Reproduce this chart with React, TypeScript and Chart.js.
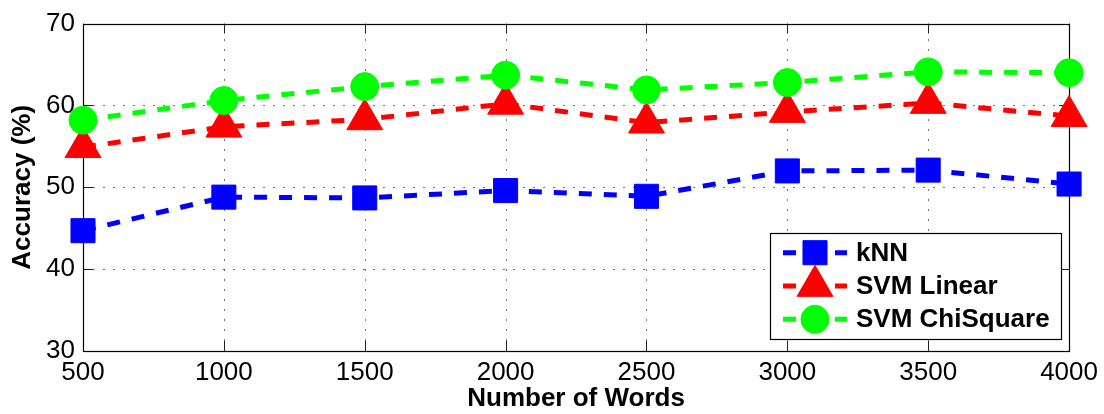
import React, { useEffect, useRef } from 'react';
import { Chart, registerables } from 'chart.js';

Chart.register(...registerables);

const categories = ['500', '1000', '1500', '2000', '2500', '3000', '3500', '4000'];
const knn = [44.7, 48.8, 48.7, 49.6, 48.9, 52.0, 52.1, 50.4];
const svmLinear = [54.9, 57.4, 58.3, 60.2, 57.9, 59.2, 60.3, 58.7];
const svmChiSquare = [58.2, 60.6, 62.3, 63.7, 61.9, 62.8, 64.1, 64.0];
const seriesNames = ['kNN', 'SVM Linear', 'SVM ChiSquare'];
const yMin = 30;
const yMax = 70;
const yStep = 10;
const xTitle = 'Number of Words';
const yTitle = 'Accuracy (%)';

const FONT = "'Liberation Sans', Arial, Helvetica, sans-serif";
const BLUE = '#0000FF';
const RED = '#FF0000';
const GREEN = '#00FF00';
const DASH = [13, 12];

function drawMarker(ctx: CanvasRenderingContext2D, style: string, x: number, y: number, r: number, color: string) {
  ctx.save();
  ctx.fillStyle = color;
  ctx.strokeStyle = color;
  ctx.lineWidth = 1;
  ctx.setLineDash([]);
  ctx.beginPath();
  if (style === 'rect') {
    const s = Math.SQRT1_2 * r;
    ctx.rect(x - s, y - s, 2 * s, 2 * s);
  } else if (style === 'triangle') {
    ctx.moveTo(x, y - r);
    ctx.lineTo(x + 0.866 * r, y + 0.5 * r);
    ctx.lineTo(x - 0.866 * r, y + 0.5 * r);
    ctx.closePath();
  } else {
    ctx.arc(x, y, r, 0, Math.PI * 2);
  }
  ctx.fill();
  ctx.stroke();
  ctx.restore();
}

const framePlugin = {
  id: 'matlabFrame',
  beforeDatasetsDraw(chart: any) {
    const { ctx, chartArea: a, scales } = chart;
    const xs = scales.x;
    const ys = scales.y;
    ctx.save();
    // dotted grid
    ctx.strokeStyle = 'rgba(0,0,0,0.55)';
    ctx.lineWidth = 1;
    ctx.setLineDash([2, 8]);
    xs.ticks.forEach((_t: any, i: number) => {
      const px = Math.round(xs.getPixelForTick(i)) + 0.5;
      ctx.beginPath();
      ctx.moveTo(px, a.bottom);
      ctx.lineTo(px, a.top);
      ctx.stroke();
    });
    ys.ticks.forEach((_t: any, i: number) => {
      const py = Math.round(ys.getPixelForTick(i)) + 0.5;
      ctx.beginPath();
      ctx.moveTo(a.left, py);
      ctx.lineTo(a.right, py);
      ctx.stroke();
    });
    ctx.setLineDash([]);
    // inward ticks on all sides
    ctx.strokeStyle = '#222';
    ctx.lineWidth = 1;
    const tl = 10;
    xs.ticks.forEach((_t: any, i: number) => {
      const px = Math.round(xs.getPixelForTick(i)) + 0.5;
      ctx.beginPath();
      ctx.moveTo(px, a.bottom);
      ctx.lineTo(px, a.bottom - tl);
      ctx.moveTo(px, a.top);
      ctx.lineTo(px, a.top + tl);
      ctx.stroke();
    });
    ys.ticks.forEach((_t: any, i: number) => {
      const py = Math.round(ys.getPixelForTick(i)) + 0.5;
      ctx.beginPath();
      ctx.moveTo(a.left, py);
      ctx.lineTo(a.left + tl, py);
      ctx.moveTo(a.right, py);
      ctx.lineTo(a.right - tl, py);
      ctx.stroke();
    });
    // box
    ctx.strokeStyle = '#000';
    ctx.lineWidth = 1.2;
    ctx.strokeRect(Math.round(a.left) + 0.5, Math.round(a.top) + 0.5, Math.round(a.right - a.left), Math.round(a.bottom - a.top));
    ctx.restore();
  },
  afterDraw(chart: any) {
    const { ctx } = chart;
    const bx = 770, by = 233, bw = 291, bh = 106;
    ctx.save();
    ctx.fillStyle = '#fff';
    ctx.fillRect(bx, by, bw, bh);
    ctx.strokeStyle = '#000';
    ctx.lineWidth = 1.2;
    ctx.strokeRect(bx + 0.5, by + 0.5, bw, bh);
    const rows = [252.7, 286, 319.3];
    chart.data.datasets.forEach((ds: any, i: number) => {
      const yy = rows[i];
      ctx.save();
      ctx.strokeStyle = ds.borderColor;
      ctx.lineWidth = ds.borderWidth;
      ctx.lineCap = 'butt';
      ctx.setLineDash([13, 13]);
      ctx.beginPath();
      ctx.moveTo(783, yy);
      ctx.lineTo(847, yy);
      ctx.stroke();
      ctx.restore();
      drawMarker(ctx, ds.pointStyle, 815, yy, ds.pointRadius, ds.backgroundColor);
      ctx.fillStyle = '#000';
      ctx.font = `bold 26px ${FONT}`;
      ctx.textAlign = 'left';
      ctx.textBaseline = 'middle';
      ctx.fillText(ds.label, 856, yy + 1);
    });
    ctx.restore();
  },
};

export default function App() {
  const ref = useRef<HTMLCanvasElement | null>(null);
  useEffect(() => {
    document.body.style.margin = '0';
    const canvas = ref.current;
    if (!canvas) return;
    const mk = (label: string, data: number[], color: string, style: string, r: number, order: number) => ({
      label,
      data,
      borderColor: color,
      backgroundColor: color,
      borderWidth: 5,
      borderDash: DASH,
      borderCapStyle: 'butt',
      tension: 0,
      fill: false,
      pointStyle: style,
      pointRadius: r,
      pointBackgroundColor: color,
      pointBorderColor: color,
      pointBorderWidth: 1,
      clip: false,
      order,
    });
    const chart = new Chart(canvas, {
      type: 'line',
      data: {
        labels: categories,
        datasets: [
          mk(seriesNames[0], knn, BLUE, 'rect', 17, 3),
          mk(seriesNames[1], svmLinear, RED, 'triangle', 20.7, 2),
          mk(seriesNames[2], svmChiSquare, GREEN, 'circle', 14, 1),
        ] as any,
      },
      options: {
        responsive: false,
        animation: false,
        devicePixelRatio: 1,
        layout: { padding: { left: 0, top: 21, right: 31, bottom: 0 } },
        plugins: { legend: { display: false }, tooltip: { enabled: false }, title: { display: false } },
        scales: {
          x: {
            type: 'category',
            offset: false,
            grid: { display: false, drawTicks: false },
            border: { display: false },
            ticks: {
              color: '#000',
              font: { family: FONT, size: 26 },
              padding: 6,
              maxRotation: 0,
              autoSkip: false,
            },
            title: {
              display: true,
              text: xTitle,
              color: '#000',
              font: { family: FONT, size: 26, weight: 'bold' },
              padding: { top: 0, bottom: 0 },
            },
            afterFit: (s: any) => { s.height = 63; },
          },
          y: {
            min: yMin,
            max: yMax,
            grid: { display: false, drawTicks: false },
            border: { display: false },
            ticks: {
              stepSize: yStep,
              color: '#000',
              font: { family: FONT, size: 26 },
              padding: 8,
            },
            title: {
              display: true,
              text: yTitle,
              color: '#000',
              font: { family: FONT, size: 26, weight: 'bold' },
              padding: { top: 7.5, bottom: 0 },
            },
            afterFit: (s: any) => { s.width = 83; },
          },
        },
      } as any,
      plugins: [framePlugin],
    });
    return () => chart.destroy();
  }, []);
  return (
    <div style={{ position: 'absolute', left: 0, top: 0, width: 1104, height: 414, background: '#fff' }}>
      <canvas ref={ref} width={1104} height={414} style={{ display: 'block', width: 1104, height: 414 }} />
    </div>
  );
}
